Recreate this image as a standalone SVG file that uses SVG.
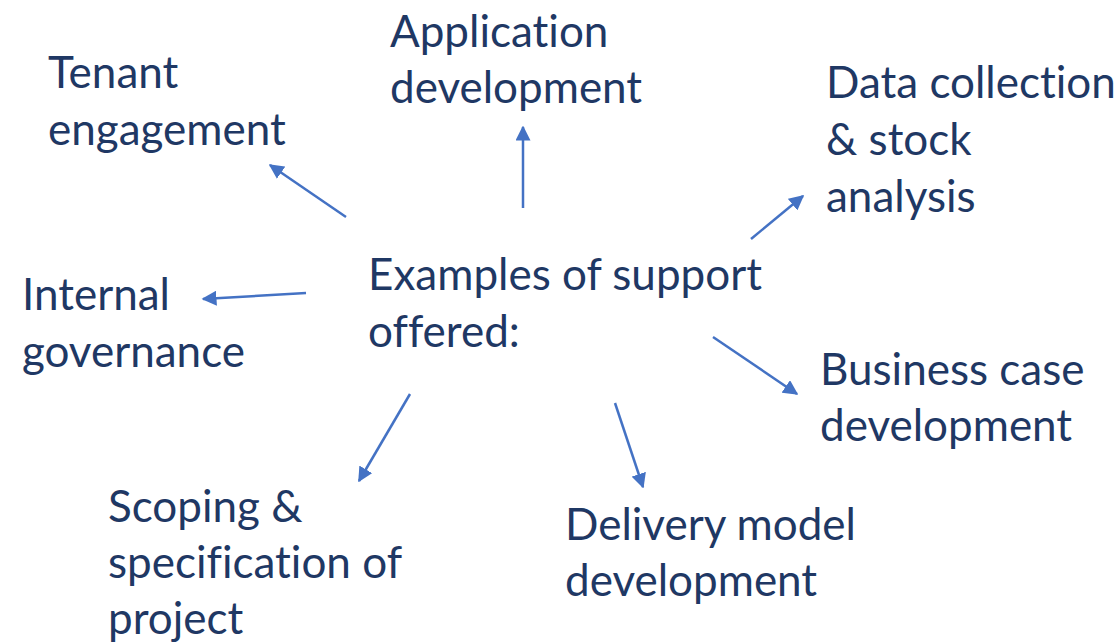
<svg xmlns="http://www.w3.org/2000/svg" width="1120" height="643" viewBox="0 0 1120 643">
<style>
text{font-family:"Lato","Liberation Sans",sans-serif;font-size:44px;fill:#1F3864;font-variant-ligatures:none;font-feature-settings:"liga" 0,"clig" 0,"dlig" 0}
.c line{stroke:#4472C4;stroke-width:2.5;marker-end:url(#ah)}
</style>
<defs>
<marker id="ah" viewBox="0 0 10 10" refX="9" refY="5" markerWidth="6" markerHeight="6" orient="auto" markerUnits="strokeWidth">
<path d="M0,0 L10,5 L0,10 z" fill="#4472C4"/>
</marker>
</defs>
<rect width="1120" height="643" fill="#fff"/>
<g id="center"><text x="368" y="290">Examples of support</text><text x="368" y="347">offered:</text></g>
<g id="tenant"><text x="48" y="88">Tenant</text><text x="48" y="145">engagement</text></g>
<g id="app"><text x="390" y="47">Application</text><text x="390" y="103">development</text></g>
<g id="data"><text x="826" y="98">Data collection</text><text x="826" y="155">&amp; stock</text><text x="826" y="212">analysis</text></g>
<g id="internal"><text x="22" y="310">Internal</text><text x="22" y="367">governance</text></g>
<g id="business"><text x="820" y="385">Business case</text><text x="820" y="441">development</text></g>
<g id="scoping"><text x="108" y="522">Scoping &amp;</text><text x="108" y="578">specification of</text><text x="108" y="634">project</text></g>
<g id="delivery"><text x="565" y="540">Delivery model</text><text x="565" y="596">development</text></g>
<g class="c" id="connectors">
<line x1="346" y1="217" x2="270" y2="165"/>
<line x1="523" y1="208" x2="523" y2="127"/>
<line x1="751" y1="239" x2="803" y2="196"/>
<line x1="306" y1="293" x2="203" y2="299"/>
<line x1="713" y1="337" x2="797" y2="394"/>
<line x1="615" y1="403" x2="643" y2="487"/>
<line x1="410" y1="394" x2="359" y2="481"/>
</g>
</svg>
